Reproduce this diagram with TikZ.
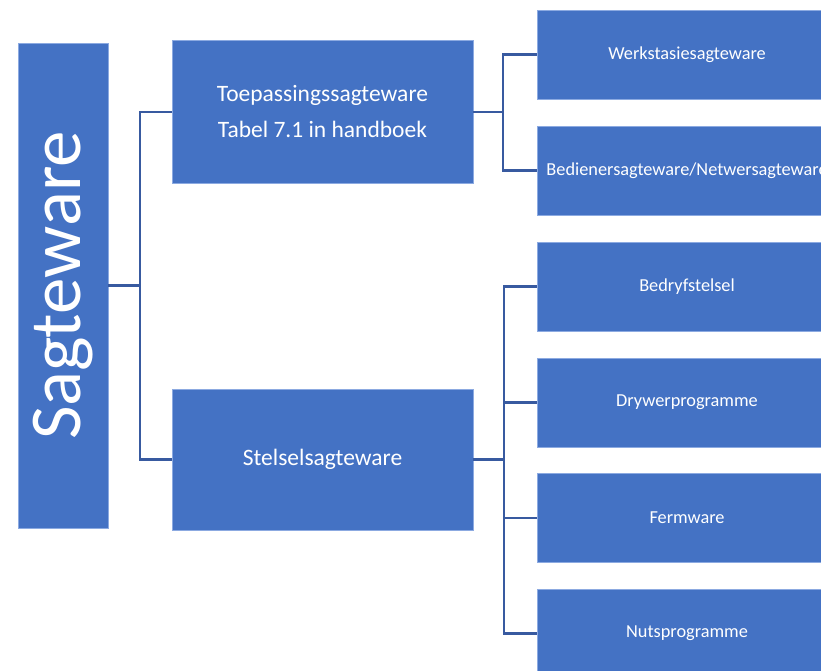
\documentclass[tikz,border=0pt]{standalone}
\usepackage{fontspec}
\setmainfont{Carlito}
\usetikzlibrary{positioning}
\definecolor{sagblue}{RGB}{68, 114, 196}
\definecolor{sagline}{RGB}{56, 90, 160}
\definecolor{sagedge}{RGB}{140, 170, 225}
\tikzstyle{rootbox} = [rectangle, minimum width=90pt, minimum height=485pt, inner sep=0pt, fill=sagblue, draw=sagedge, line width=0.6pt, text=white]
\tikzstyle{groupbox} = [rectangle, minimum width=301pt, minimum height=143pt, inner sep=0pt, fill=sagblue, draw=sagedge, line width=0.6pt, text=white, align=center, font=\fontsize{23.5}{36}\selectfont]
\tikzstyle{leafbox} = [rectangle, minimum width=300pt, minimum height=89pt, inner sep=0pt, fill=sagblue, draw=sagedge, line width=0.6pt, text=white, font=\fontsize{18.3}{22}\selectfont]
\tikzstyle{link} = [line width=2.3pt, sagline]

\begin{document}
\begin{tikzpicture}[x=1pt, y=-1pt]
\clip (0,0) rectangle (821,671);

% Root
\node[rootbox] (sagteware) at (63,285.5) {\rotatebox{90}{\fontsize{73}{80}\selectfont\raisebox{-5pt}{Sagteware}}};

% Second level
\node[groupbox] (toep) at (322.5,112) {Toepassingssagteware\\Tabel 7.1 in handboek};
\node[groupbox, minimum height=141pt] (stelsel) at (322.5,459.5) {Stelselsagteware};

% Third level
\node[leafbox] (werk) at (687,54.5) {Werkstasiesagteware};
\node[leafbox] (bedien) at (687,170.5) {Bedienersagteware/Netwersagteware};
\node[leafbox] (bedryf) at (687,286.5) {Bedryfstelsel};
\node[leafbox] (drywer) at (687,402.5) {Drywerprogramme};
\node[leafbox] (ferm) at (687,518) {Fermware};
\node[leafbox] (nuts) at (687,633.5) {Nutsprogramme};

% Forks
\coordinate[right=32pt of sagteware.east] (forkA);
\coordinate[right=30pt of toep.east] (forkB);
\coordinate[right=31pt of stelsel.east] (forkC);

\draw[link] (sagteware.east) -- (forkA);
\draw[link] (forkA) |- (toep.west);
\draw[link] (forkA) |- (stelsel.west);

\draw[link] (toep.east) -- (forkB);
\draw[link] (forkB) |- (werk.west);
\draw[link] (forkB) |- (bedien.west);

\draw[link] (stelsel.east) -- (forkC);
\draw[link] (forkC) |- (bedryf.west);
\draw[link] (forkC) |- (drywer.west);
\draw[link] (forkC) |- (ferm.west);
\draw[link] (forkC) |- (nuts.west);
\end{tikzpicture}
\end{document}
